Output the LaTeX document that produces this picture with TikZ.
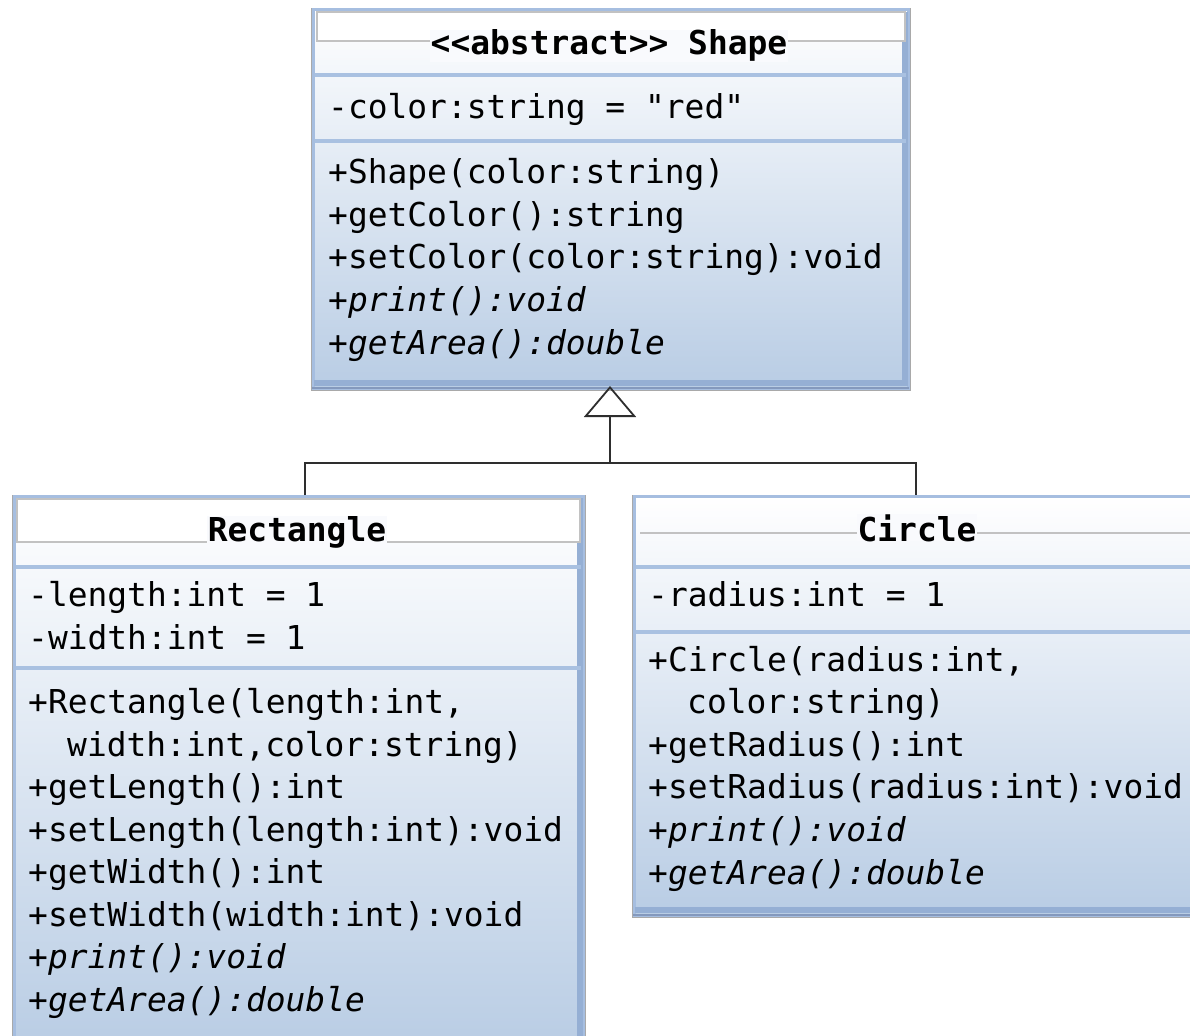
\documentclass[tikz,border=0pt]{standalone}
\usepackage{fontspec}
\newfontfamily\umlfont{DejaVu Sans Mono}
\usetikzlibrary{arrows.meta}

\definecolor{boxbot}{HTML}{B8CCE4}
\definecolor{boxedge}{HTML}{A6BEE0}
\definecolor{boxshade}{HTML}{95AFD4}
\definecolor{boxdark}{HTML}{8499BD}
\definecolor{outline}{HTML}{A9A9A9}
\definecolor{sepline}{HTML}{A9C1E1}
\definecolor{headline}{HTML}{C2C2C2}
\definecolor{headfill}{HTML}{F9FAFD}
\definecolor{wire}{HTML}{2E2E2E}

\tikzset{
  boxbody/.style={draw=outline, line width=1pt, top color=white, bottom color=boxbot,
    anchor=north west, inner sep=0pt},
  rim/.style={draw=boxedge, line width=3pt},
  dropband/.style={draw=boxshade, line width=6pt},
  dropline/.style={draw=boxdark, line width=2pt},
  compsep/.style={draw=sepline, line width=4pt},
  headrule/.style={draw=headline, line width=1.2pt},
  member/.style={anchor=base west, inner sep=0pt, font=\umlfont\fontsize{32.9}{43}\selectfont},
  abstractop/.style={member, font=\umlfont\itshape\fontsize{32.9}{43}\selectfont},
  classname/.style={anchor=base, inner xsep=1pt, inner ysep=0pt, fill=headfill,
    font=\umlfont\bfseries\fontsize{32.9}{43}\selectfont},
  wireline/.style={draw=wire, line width=1.8pt},
}

\begin{document}
\begin{tikzpicture}[x=1pt, y=-1pt]
  \fill[white] (0,0) rectangle (1190,1035);
  \useasboundingbox (0,0) rectangle (1190,1035);
  \clip (0,0) rectangle (1190,1035);

  % ---------- Shape ----------
  \node[boxbody, minimum width=599pt, minimum height=382pt] (shape) at (311,8) {};
  \draw[rim] (313.5,9.5) rectangle (908.5,388.5);
  \draw[dropband] (314,383) -- (908,383);
  \draw[dropband] (905,12) -- (905,386);
  \draw[dropline] (312,387.5) -- (909,387.5);
  \draw[headrule, fill=white] (317,12) rectangle (905,41);
  \draw[compsep] (315,75) -- (906,75);
  \draw[compsep] (315,141) -- (906,141);
  \node[classname] (shapetitle) at (609,55) {<<abstract>> Shape};
  \node[member] (sa1) at (328,119) {-color:string = "red"};
  \node[member] (sm1) at (328,183) {+Shape(color:string)};
  \node[member] (sm2) at (328,226) {+getColor():string};
  \node[member] (sm3) at (328,268) {+setColor(color:string):void};
  \node[abstractop] (sm4) at (328,311) {+print():void};
  \node[abstractop] (sm5) at (328,354) {+getArea():double};

  % ---------- Rectangle ----------
  \node[boxbody, minimum width=573pt, minimum height=560pt] (rect) at (12,495) {};
  \draw[rim] (14.5,496.5) rectangle (583.5,1060);
  \draw[dropband] (580,498) -- (580,1060);
  \draw[headrule, fill=white] (17,499) rectangle (580,542);
  \draw[compsep] (16,567) -- (581,567);
  \draw[compsep] (16,668) -- (581,668);
  \node[classname] (recttitle) at (297,541) {Rectangle};
  \node[member] (ra1) at (28,606) {-length:int = 1};
  \node[member] (ra2) at (28,649) {-width:int = 1};
  \node[member] (rm1) at (28,713) {+Rectangle(length:int,};
  \node[member] (rm1b) at (67,756) {width:int,color:string)};
  \node[member] (rm2) at (28,798) {+getLength():int};
  \node[member] (rm3) at (28,841) {+setLength(length:int):void};
  \node[member] (rm4) at (28,883) {+getWidth():int};
  \node[member] (rm5) at (28,926) {+setWidth(width:int):void};
  \node[abstractop] (rm6) at (28,968) {+print():void};
  \node[abstractop] (rm7) at (28,1011) {+getArea():double};

  % ---------- Circle ----------
  \node[boxbody, minimum width=580pt, minimum height=422pt] (circ) at (632,495) {};
  \draw[rim] (634.5,496.5) rectangle (1215,915.5);
  \draw[dropband] (635,910) -- (1215,910);
  \draw[dropline] (633,915) -- (1215,915);
  \draw[headrule] (640,533) -- (1190,533);
  \draw[compsep] (636,567) -- (1212,567);
  \draw[compsep] (636,632) -- (1212,632);
  \node[classname] (circtitle) at (917,541) {Circle};
  \node[member] (ca1) at (648,606) {-radius:int = 1};
  \node[member] (cm1) at (648,671) {+Circle(radius:int,};
  \node[member] (cm1b) at (687,713) {color:string)};
  \node[member] (cm2) at (648,756) {+getRadius():int};
  \node[member] (cm3) at (648,798) {+setRadius(radius:int):void};
  \node[abstractop] (cm4) at (648,841) {+print():void};
  \node[abstractop] (cm5) at (648,884) {+getArea():double};

  % ---------- generalisation ----------
  \coordinate (rtop) at (305,495);
  \coordinate (ctop) at (916,495);
  \coordinate (join) at (610,463);
  \coordinate (sbot) at (610,386);
  \draw[wireline] (rtop) |- (join) -| (ctop);
  \draw[wireline, -{Triangle[open, length=31pt, width=52pt, line width=1.8pt]}] (join) -- (sbot);
\end{tikzpicture}
\end{document}
